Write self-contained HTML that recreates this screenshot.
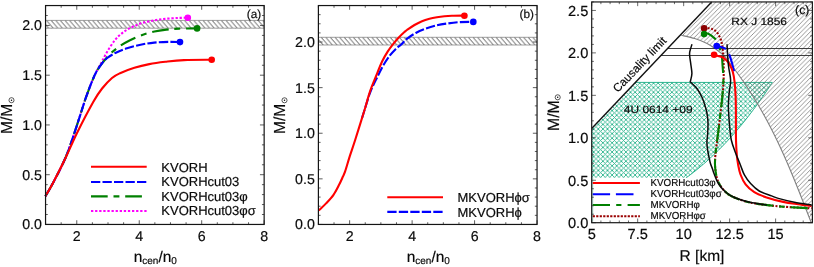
<!DOCTYPE html>
<html><head><meta charset="utf-8"><title>figure</title>
<style>html,body{margin:0;padding:0;background:#fff;}body{width:814px;height:267px;overflow:hidden;position:relative;font-family:"Liberation Sans",sans-serif;}</style>
</head><body>
<svg width="814" height="267" viewBox="0 0 814 267" style="position:absolute;left:0;top:0;will-change:transform;text-rendering:geometricPrecision">
<style>text{stroke:#0a0a0a;stroke-width:0.18px}</style>
<defs>
<pattern id="hb" width="4.6" height="7.8" patternUnits="userSpaceOnUse" x="46.5" y="20.4">
<path d="M-9.2,0L-2.5,7.8M-4.6,0L2.1,7.8M0,0L6.7,7.8M4.6,0L11.3,7.8" stroke="#2a2a2a" stroke-width="0.8"/>
</pattern>
<pattern id="hb2" width="4.6" height="7.7" patternUnits="userSpaceOnUse" x="321.1" y="37.3">
<path d="M-9.2,0L-2.5,7.7M-4.6,0L2.1,7.7M0,0L6.7,7.7M4.6,0L11.3,7.7" stroke="#2a2a2a" stroke-width="0.8"/>
</pattern>
<pattern id="hc" width="4.6" height="4.6" patternUnits="userSpaceOnUse" x="0.4" y="0">
<path d="M-1,5.6L5.6,-1M-1,1L1,-1M3.6,5.6L5.6,3.6" stroke="#707070" stroke-width="0.72"/>
</pattern>
<pattern id="tc" width="4.6" height="4.6" patternUnits="userSpaceOnUse" x="0.3" y="0.2">
<path d="M-1,5.6L5.6,-1M-1,1L1,-1M3.6,5.6L5.6,3.6M-1,-1L5.6,5.6M3.6,-1L5.6,1M-1,3.6L1,5.6" stroke="#2db48d" stroke-width="0.9"/>
</pattern>
<clipPath id="ca"><rect x="0.00" y="0.00" width="0.00" height="0.00"/></clipPath>
</defs>
<rect width="814" height="267" fill="#fff"/>
<rect x="45.55" y="20.40" width="218.60" height="7.80" fill="url(#hb)"/><path d="M45.55,20.40H264.15M45.55,28.20H264.15" stroke="#777" stroke-width="0.7" fill="none"/>
<g fill="none" stroke-width="2.1" stroke-linejoin="round">
<path d="M45.40,196.10C46.67,193.92 49.67,189.35 53.00,183.00C56.33,176.65 61.83,166.33 65.40,158.00C68.97,149.67 71.23,142.33 74.40,133.00C77.57,123.67 82.15,108.80 84.40,102.00C86.65,95.20 86.70,95.47 87.90,92.20C89.10,88.93 90.25,85.68 91.60,82.40C92.95,79.12 94.72,75.18 96.00,72.50C97.28,69.82 98.20,68.33 99.30,66.30C100.40,64.27 101.17,62.93 102.60,60.30C104.03,57.67 105.83,53.88 107.90,50.50C109.97,47.12 112.80,42.75 115.00,40.00C117.20,37.25 119.07,35.73 121.10,34.00C123.13,32.27 124.93,30.95 127.20,29.60C129.47,28.25 132.22,26.98 134.70,25.90C137.18,24.82 139.43,23.92 142.10,23.10C144.77,22.28 147.82,21.60 150.70,21.00C153.58,20.40 156.30,19.92 159.40,19.50C162.50,19.08 166.00,18.77 169.30,18.50C172.60,18.23 176.12,18.02 179.20,17.90C182.28,17.78 186.37,17.82 187.80,17.80" stroke="#ff00ff" stroke-dasharray="2.3 1.8"/>
<path d="M45.40,196.10C46.67,193.92 49.67,189.35 53.00,183.00C56.33,176.65 61.83,166.33 65.40,158.00C68.97,149.67 71.23,142.33 74.40,133.00C77.57,123.67 82.15,108.80 84.40,102.00C86.65,95.20 86.70,95.47 87.90,92.20C89.10,88.93 90.25,85.68 91.60,82.40C92.95,79.12 94.32,75.60 96.00,72.50C97.68,69.40 100.10,66.05 101.70,63.80C103.30,61.55 103.95,60.88 105.60,59.00C107.25,57.12 109.07,54.75 111.60,52.50C114.13,50.25 117.82,47.50 120.80,45.50C123.78,43.50 126.17,42.17 129.50,40.50C132.83,38.83 136.65,37.00 140.80,35.50C144.95,34.00 150.07,32.48 154.40,31.50C158.73,30.52 162.67,30.08 166.80,29.60C170.93,29.12 174.15,28.80 179.20,28.60C184.25,28.40 194.12,28.43 197.10,28.40" stroke="#008000" stroke-dasharray="16.7 5.8 5.9 5.8"/>
<path d="M45.40,196.10C46.67,193.92 49.67,189.35 53.00,183.00C56.33,176.65 61.83,166.33 65.40,158.00C68.97,149.67 71.23,142.33 74.40,133.00C77.57,123.67 82.15,108.80 84.40,102.00C86.65,95.20 86.70,95.47 87.90,92.20C89.10,88.93 90.25,85.68 91.60,82.40C92.95,79.12 94.32,75.60 96.00,72.50C97.68,69.40 99.83,66.22 101.70,63.80C103.57,61.38 104.83,59.85 107.20,58.00C109.57,56.15 112.60,54.32 115.90,52.70C119.20,51.08 122.88,49.63 127.00,48.30C131.12,46.97 136.07,45.65 140.60,44.70C145.13,43.75 149.47,43.07 154.20,42.60C158.93,42.13 164.70,41.98 169.00,41.90C173.30,41.82 178.17,42.07 180.00,42.10" stroke="#0000ff" stroke-dasharray="9.3 2.2"/>
<path d="M45.40,196.10C46.67,193.92 49.67,189.30 53.00,183.00C56.33,176.70 61.40,166.63 65.40,158.30C69.40,149.97 72.32,142.47 77.00,133.00C81.68,123.53 89.32,108.92 93.50,101.50C97.68,94.08 99.02,92.42 102.10,88.50C105.18,84.58 109.02,80.55 112.00,78.00C114.98,75.45 116.27,74.90 120.00,73.20C123.73,71.50 129.52,69.32 134.40,67.80C139.28,66.28 144.15,65.10 149.30,64.10C154.45,63.10 159.52,62.47 165.30,61.80C171.08,61.13 176.27,60.43 184.00,60.10C191.73,59.77 207.08,59.85 211.70,59.80" stroke="#ff0000"/>
</g>
<circle cx="211.7" cy="59.8" r="3.3" fill="#ff0000"/>
<circle cx="180.0" cy="42.1" r="3.3" fill="#0000ff"/>
<circle cx="197.1" cy="28.4" r="3.3" fill="#008000"/>
<circle cx="187.8" cy="17.8" r="3.3" fill="#ff00ff"/>
<path d="M45.55,224.45v-2.20M45.55,5.55v2.20M61.16,224.45v-2.20M61.16,5.55v2.20M76.78,224.45v-4.20M76.78,5.55v4.20M92.39,224.45v-2.20M92.39,5.55v2.20M108.01,224.45v-2.20M108.01,5.55v2.20M123.62,224.45v-2.20M123.62,5.55v2.20M139.24,224.45v-4.20M139.24,5.55v4.20M154.85,224.45v-2.20M154.85,5.55v2.20M170.46,224.45v-2.20M170.46,5.55v2.20M186.08,224.45v-2.20M186.08,5.55v2.20M201.69,224.45v-4.20M201.69,5.55v4.20M217.31,224.45v-2.20M217.31,5.55v2.20M232.92,224.45v-2.20M232.92,5.55v2.20M248.54,224.45v-2.20M248.54,5.55v2.20M264.15,224.45v-4.20M264.15,5.55v4.20M45.55,224.45h4.20M264.15,224.45h-4.20M45.55,214.50h2.20M264.15,214.50h-2.20M45.55,204.55h2.20M264.15,204.55h-2.20M45.55,194.60h2.20M264.15,194.60h-2.20M45.55,184.65h2.20M264.15,184.65h-2.20M45.55,174.70h4.20M264.15,174.70h-4.20M45.55,164.75h2.20M264.15,164.75h-2.20M45.55,154.80h2.20M264.15,154.80h-2.20M45.55,144.85h2.20M264.15,144.85h-2.20M45.55,134.90h2.20M264.15,134.90h-2.20M45.55,124.95h4.20M264.15,124.95h-4.20M45.55,115.00h2.20M264.15,115.00h-2.20M45.55,105.05h2.20M264.15,105.05h-2.20M45.55,95.10h2.20M264.15,95.10h-2.20M45.55,85.15h2.20M264.15,85.15h-2.20M45.55,75.20h4.20M264.15,75.20h-4.20M45.55,65.25h2.20M264.15,65.25h-2.20M45.55,55.30h2.20M264.15,55.30h-2.20M45.55,45.35h2.20M264.15,45.35h-2.20M45.55,35.40h2.20M264.15,35.40h-2.20M45.55,25.45h4.20M264.15,25.45h-4.20M45.55,15.50h2.20M264.15,15.50h-2.20M45.55,5.55h2.20M264.15,5.55h-2.20" stroke="#333" stroke-width="0.8" fill="none"/>
<rect x="45.55" y="5.55" width="218.60" height="218.90" fill="none" stroke="#141414" stroke-width="1.2"/>
<g fill="none" stroke-width="2.1">
<path d="M91,166.8H146.7" stroke="#ff0000"/>
<path d="M91,182.0H146.7" stroke="#0000ff" stroke-dasharray="9.3 2.2"/>
<path d="M91,196.4H146.7" stroke="#008000" stroke-dasharray="16.7 5.8 5.9 5.8"/>
<path d="M91,211.0H146.7" stroke="#ff00ff" stroke-dasharray="2.3 1.8"/>
</g>
<g font-family="Liberation Sans, sans-serif" font-size="13px" fill="#0a0a0a" stroke="#0a0a0a" stroke-width="0.25">
<text x="161.3" y="172.0">KVORH</text>
<text x="161.3" y="186.0">KVORHcut03</text>
<text x="161.3" y="201.0">KVORHcut03φ</text>
<text x="161.3" y="215.0">KVORHcut03φσ</text>
</g>
<g font-family="Liberation Sans, sans-serif" font-size="14.2px" fill="#0a0a0a"><text x="76.78" y="240.75" text-anchor="middle">2</text><text x="139.24" y="240.75" text-anchor="middle">4</text><text x="201.69" y="240.75" text-anchor="middle">6</text><text x="264.15" y="240.75" text-anchor="middle">8</text><text x="41.95" y="229.45" text-anchor="end">0.0</text><text x="41.95" y="179.70" text-anchor="end">0.5</text><text x="41.95" y="129.95" text-anchor="end">1.0</text><text x="41.95" y="80.20" text-anchor="end">1.5</text><text x="41.95" y="30.45" text-anchor="end">2.0</text></g>
<text font-family="Liberation Sans, sans-serif" font-size="11.8px" fill="#0a0a0a" x="261.2" y="17.8" text-anchor="end">(a)</text>
<text font-family="Liberation Sans, sans-serif" font-size="15.5px" fill="#0a0a0a" transform="translate(12.40,133.90) rotate(-90) scale(1,1.03)">M/M</text><circle cx="11.50" cy="100.20" r="2.55" fill="none" stroke="#111" stroke-width="0.7"/><circle cx="11.50" cy="100.20" r="0.75" fill="#0a0a0a"/>
<text font-family="Liberation Sans, sans-serif" font-size="15.5px" fill="#0a0a0a" x="155.30" y="261.90" text-anchor="middle">n<tspan font-size="10px" dy="2.0">cen</tspan><tspan dy="-2.0">/n</tspan><tspan font-size="10px" dy="2.0">0</tspan></text>
<rect x="318.40" y="37.30" width="218.65" height="7.70" fill="url(#hb2)"/><path d="M318.40,37.30H537.05M318.40,45.00H537.05" stroke="#777" stroke-width="0.7" fill="none"/>
<g fill="none" stroke-width="2.1" stroke-linejoin="round">
<path d="M361.90,118.50C362.42,116.83 363.60,112.90 365.00,108.50C366.40,104.10 368.25,97.35 370.30,92.10C372.35,86.85 375.10,81.52 377.30,77.00C379.50,72.48 381.43,68.55 383.50,65.00C385.57,61.45 387.65,58.38 389.70,55.70C391.75,53.02 393.88,50.77 395.80,48.90C397.72,47.03 399.30,46.22 401.20,44.50C403.10,42.78 404.77,40.52 407.20,38.60C409.63,36.68 412.72,34.65 415.80,33.00C418.88,31.35 422.18,29.98 425.70,28.70C429.22,27.42 433.18,26.18 436.90,25.30C440.62,24.42 444.10,23.93 448.00,23.40C451.90,22.87 456.08,22.35 460.30,22.10C464.52,21.85 471.13,21.93 473.30,21.90" stroke="#0000ff" stroke-dasharray="9.3 2.2"/>
<path d="M318.70,210.50C319.93,209.32 323.63,206.02 326.10,203.40C328.57,200.78 331.33,197.90 333.50,194.80C335.67,191.70 337.55,187.80 339.10,184.80C340.65,181.80 341.78,179.07 342.80,176.80C343.82,174.53 344.03,174.65 345.20,171.20C346.37,167.75 348.17,161.22 349.80,156.10C351.43,150.98 352.47,148.43 355.00,140.50C357.53,132.57 362.53,116.57 365.00,108.50C367.47,100.43 367.98,97.43 369.80,92.10C371.62,86.77 373.83,81.63 375.90,76.50C377.97,71.37 380.22,65.48 382.20,61.30C384.18,57.12 385.95,54.32 387.80,51.40C389.65,48.48 391.47,46.12 393.30,43.80C395.13,41.48 396.90,39.50 398.80,37.50C400.70,35.50 403.33,33.05 404.70,31.80C406.07,30.55 405.37,31.13 407.00,30.00C408.63,28.87 412.00,26.47 414.50,25.00C417.00,23.53 419.50,22.23 422.00,21.20C424.50,20.17 427.02,19.45 429.50,18.80C431.98,18.15 434.42,17.72 436.90,17.30C439.38,16.88 441.90,16.55 444.40,16.30C446.90,16.05 448.57,15.92 451.90,15.80C455.23,15.68 462.32,15.63 464.40,15.60" stroke="#ff0000"/>
</g>
<circle cx="464.4" cy="15.7" r="3.3" fill="#ff0000"/>
<circle cx="473.3" cy="21.9" r="3.3" fill="#0000ff"/>
<path d="M318.40,224.45v-2.20M318.40,5.55v2.20M334.02,224.45v-2.20M334.02,5.55v2.20M349.64,224.45v-4.20M349.64,5.55v4.20M365.25,224.45v-2.20M365.25,5.55v2.20M380.87,224.45v-2.20M380.87,5.55v2.20M396.49,224.45v-2.20M396.49,5.55v2.20M412.11,224.45v-4.20M412.11,5.55v4.20M427.72,224.45v-2.20M427.72,5.55v2.20M443.34,224.45v-2.20M443.34,5.55v2.20M458.96,224.45v-2.20M458.96,5.55v2.20M474.58,224.45v-4.20M474.58,5.55v4.20M490.20,224.45v-2.20M490.20,5.55v2.20M505.81,224.45v-2.20M505.81,5.55v2.20M521.43,224.45v-2.20M521.43,5.55v2.20M537.05,224.45v-4.20M537.05,5.55v4.20M318.40,224.45h4.20M537.05,224.45h-4.20M318.40,215.33h2.20M537.05,215.33h-2.20M318.40,206.21h2.20M537.05,206.21h-2.20M318.40,197.09h2.20M537.05,197.09h-2.20M318.40,187.97h2.20M537.05,187.97h-2.20M318.40,178.85h4.20M537.05,178.85h-4.20M318.40,169.72h2.20M537.05,169.72h-2.20M318.40,160.60h2.20M537.05,160.60h-2.20M318.40,151.48h2.20M537.05,151.48h-2.20M318.40,142.36h2.20M537.05,142.36h-2.20M318.40,133.24h4.20M537.05,133.24h-4.20M318.40,124.12h2.20M537.05,124.12h-2.20M318.40,115.00h2.20M537.05,115.00h-2.20M318.40,105.88h2.20M537.05,105.88h-2.20M318.40,96.76h2.20M537.05,96.76h-2.20M318.40,87.64h4.20M537.05,87.64h-4.20M318.40,78.52h2.20M537.05,78.52h-2.20M318.40,69.40h2.20M537.05,69.40h-2.20M318.40,60.28h2.20M537.05,60.28h-2.20M318.40,51.15h2.20M537.05,51.15h-2.20M318.40,42.03h4.20M537.05,42.03h-4.20M318.40,32.91h2.20M537.05,32.91h-2.20M318.40,23.79h2.20M537.05,23.79h-2.20M318.40,14.67h2.20M537.05,14.67h-2.20M318.40,5.55h2.20M537.05,5.55h-2.20" stroke="#333" stroke-width="0.8" fill="none"/>
<rect x="318.40" y="5.55" width="218.65" height="218.90" fill="none" stroke="#141414" stroke-width="1.2"/>
<g fill="none" stroke-width="2.1">
<path d="M387.3,197.3H443" stroke="#ff0000"/>
<path d="M387.3,211.9H443" stroke="#0000ff" stroke-dasharray="9.3 2.2"/>
</g>
<g font-family="Liberation Sans, sans-serif" font-size="13px" fill="#0a0a0a" stroke="#0a0a0a" stroke-width="0.25">
<text x="457.5" y="202.1">MKVORHϕσ</text>
<text x="457.5" y="216.7">MKVORHϕ</text>
</g>
<g font-family="Liberation Sans, sans-serif" font-size="14.2px" fill="#0a0a0a"><text x="349.64" y="240.75" text-anchor="middle">2</text><text x="412.11" y="240.75" text-anchor="middle">4</text><text x="474.58" y="240.75" text-anchor="middle">6</text><text x="537.05" y="240.75" text-anchor="middle">8</text><text x="314.80" y="229.45" text-anchor="end">0.0</text><text x="314.80" y="183.85" text-anchor="end">0.5</text><text x="314.80" y="138.24" text-anchor="end">1.0</text><text x="314.80" y="92.64" text-anchor="end">1.5</text><text x="314.80" y="47.03" text-anchor="end">2.0</text></g>
<text font-family="Liberation Sans, sans-serif" font-size="11.8px" fill="#0a0a0a" x="534" y="17.8" text-anchor="end">(b)</text>
<text font-family="Liberation Sans, sans-serif" font-size="15.5px" fill="#0a0a0a" transform="translate(285.40,134.00) rotate(-90) scale(1,1.03)">M/M</text><circle cx="284.50" cy="100.30" r="2.55" fill="none" stroke="#111" stroke-width="0.7"/><circle cx="284.50" cy="100.30" r="0.75" fill="#0a0a0a"/>
<text font-family="Liberation Sans, sans-serif" font-size="15.5px" fill="#0a0a0a" x="428.30" y="261.90" text-anchor="middle">n<tspan font-size="10px" dy="2.0">cen</tspan><tspan dy="-2.0">/n</tspan><tspan font-size="10px" dy="2.0">0</tspan></text>
<path d="M591.70,179.50L591.70,128.40L635.50,82.40L772.31,82.44C771.56,83.57 769.35,86.97 767.83,89.23C766.32,91.50 764.78,93.76 763.21,96.02C761.64,98.29 760.04,100.55 758.41,102.82C756.78,105.08 755.12,107.34 753.43,109.61C751.74,111.87 750.01,114.14 748.25,116.40C746.48,118.66 744.68,120.93 742.84,123.19C740.99,125.46 739.11,127.72 737.17,129.99C735.24,132.25 733.26,134.51 731.23,136.78C729.19,139.04 727.11,141.31 724.96,143.57C722.81,145.83 720.61,148.10 718.32,150.36C716.04,152.63 713.70,154.89 711.26,157.15C708.82,159.42 706.31,161.68 703.68,163.95C701.05,166.21 698.35,168.47 695.50,170.74C692.65,173.00 688.08,176.39 686.57,177.53C685.06,178.67 686.47,177.59 686.45,177.60L684.05,179.50L591.70,179.50Z" fill="url(#tc)"/>
<path d="M635.50,82.40L772.31,82.44C771.56,83.57 769.35,86.97 767.83,89.23C766.32,91.50 764.78,93.76 763.21,96.02C761.64,98.29 760.04,100.55 758.41,102.82C756.78,105.08 755.12,107.34 753.43,109.61C751.74,111.87 750.01,114.14 748.25,116.40C746.48,118.66 744.68,120.93 742.84,123.19C740.99,125.46 739.11,127.72 737.17,129.99C735.24,132.25 733.26,134.51 731.23,136.78C729.19,139.04 727.11,141.31 724.96,143.57C722.81,145.83 720.61,148.10 718.32,150.36C716.04,152.63 713.70,154.89 711.26,157.15C708.82,159.42 706.31,161.68 703.68,163.95C701.05,166.21 698.35,168.47 695.50,170.74C692.65,173.00 688.08,176.39 686.57,177.53C685.06,178.67 686.47,177.59 686.45,177.60" fill="none" stroke="#16ad83" stroke-width="0.9"/>
<rect x="592.20" y="177.9" width="128" height="44.30" fill="#fff"/>
<path d="M592.75,129V221.5" stroke="#2db48d" stroke-width="0.7" opacity="0.55" fill="none"/>
<path d="M681.30,35.30C683.53,35.85 690.40,37.23 694.70,38.60C699.00,39.97 703.60,41.75 707.10,43.50C710.60,45.25 712.84,47.02 715.70,49.10C718.56,51.18 721.54,53.18 724.27,56.00C727.01,58.82 729.58,62.67 732.11,66.00C734.64,69.33 737.08,72.67 739.45,76.00C741.82,79.33 744.11,82.67 746.32,86.00C748.54,89.33 750.68,92.67 752.76,96.00C754.84,99.33 756.85,102.67 758.81,106.00C760.76,109.33 762.65,112.67 764.48,116.00C766.32,119.33 768.10,122.67 769.83,126.00C771.56,129.33 773.24,132.67 774.88,136.00C776.52,139.33 778.11,142.67 779.66,146.00C781.22,149.33 782.73,152.67 784.22,156.00C785.71,159.33 787.15,162.67 788.58,166.00C790.01,169.33 791.40,172.67 792.78,176.00C794.16,179.33 795.51,182.67 796.85,186.00C798.19,189.33 799.52,192.67 800.83,196.00C802.15,199.33 803.45,202.67 804.75,206.00C806.05,209.33 807.57,213.23 808.65,216.00C809.72,218.77 810.79,221.50 811.22,222.60L812.40,222.70L812.40,1.95L711.70,1.95L681.30,35.30Z" fill="url(#hc)"/>
<path d="M681.30,35.30C683.53,35.85 690.40,37.23 694.70,38.60C699.00,39.97 703.60,41.75 707.10,43.50C710.60,45.25 712.84,47.02 715.70,49.10C718.56,51.18 721.54,53.18 724.27,56.00C727.01,58.82 729.58,62.67 732.11,66.00C734.64,69.33 737.08,72.67 739.45,76.00C741.82,79.33 744.11,82.67 746.32,86.00C748.54,89.33 750.68,92.67 752.76,96.00C754.84,99.33 756.85,102.67 758.81,106.00C760.76,109.33 762.65,112.67 764.48,116.00C766.32,119.33 768.10,122.67 769.83,126.00C771.56,129.33 773.24,132.67 774.88,136.00C776.52,139.33 778.11,142.67 779.66,146.00C781.22,149.33 782.73,152.67 784.22,156.00C785.71,159.33 787.15,162.67 788.58,166.00C790.01,169.33 791.40,172.67 792.78,176.00C794.16,179.33 795.51,182.67 796.85,186.00C798.19,189.33 799.52,192.67 800.83,196.00C802.15,199.33 803.45,202.67 804.75,206.00C806.05,209.33 807.57,213.23 808.65,216.00C809.72,218.77 810.79,221.50 811.22,222.60" fill="none" stroke="#808080" stroke-width="1.1"/>
<path d="M667.63,48.5H812.40M660.99,55.5H812.40" stroke="#2a2a2a" stroke-width="0.9" fill="none"/>
<path d="M591.70,128.4L711.7,2" stroke="#111" stroke-width="1.4" fill="none"/>
<g fill="none" stroke-linejoin="round">
<path d="M704.00,28.20C704.93,28.22 708.03,28.07 709.60,28.30C711.17,28.53 712.22,28.97 713.40,29.60C714.58,30.23 715.73,31.05 716.70,32.10C717.67,33.15 718.50,34.62 719.20,35.90C719.90,37.18 720.43,38.42 720.90,39.80C721.37,41.18 721.67,42.23 722.00,44.20C722.33,46.17 722.63,48.57 722.90,51.60C723.17,54.63 723.48,57.67 723.60,62.40C723.72,67.13 723.80,74.40 723.60,80.00C723.40,85.60 722.87,91.00 722.40,96.00C721.93,101.00 721.42,104.58 720.80,110.00C720.18,115.42 719.32,123.33 718.70,128.50C718.08,133.67 717.65,136.62 717.10,141.00C716.55,145.38 715.75,150.85 715.40,154.80C715.05,158.75 714.95,161.83 715.00,164.70C715.05,167.57 715.28,169.45 715.70,172.00C716.12,174.55 716.55,177.45 717.50,180.00C718.45,182.55 719.52,184.87 721.40,187.30C723.28,189.73 725.92,192.62 728.80,194.60C731.68,196.58 734.98,197.85 738.70,199.20C742.42,200.55 746.35,201.72 751.10,202.70C755.85,203.68 761.85,204.43 767.20,205.10C772.55,205.77 778.05,206.28 783.20,206.70C788.35,207.12 793.35,207.33 798.10,207.60C802.85,207.87 809.43,208.18 811.70,208.30" stroke="#990000" stroke-width="2.1" stroke-dasharray="2.0 1.55"/>
<path d="M704.00,34.00C704.57,33.92 706.43,33.40 707.40,33.50C708.37,33.60 708.82,33.98 709.80,34.60C710.78,35.22 712.17,36.17 713.30,37.20C714.43,38.23 715.47,38.72 716.60,40.80C717.73,42.88 719.23,47.17 720.10,49.70C720.97,52.23 721.38,53.28 721.80,56.00C722.22,58.72 722.33,62.00 722.60,66.00C722.87,70.00 723.43,75.00 723.40,80.00C723.37,85.00 722.83,91.00 722.40,96.00C721.97,101.00 721.42,104.58 720.80,110.00C720.18,115.42 719.32,123.33 718.70,128.50C718.08,133.67 717.65,136.62 717.10,141.00C716.55,145.38 715.75,150.85 715.40,154.80C715.05,158.75 714.95,161.83 715.00,164.70C715.05,167.57 715.28,169.45 715.70,172.00C716.12,174.55 716.55,177.45 717.50,180.00C718.45,182.55 719.52,184.87 721.40,187.30C723.28,189.73 725.92,192.62 728.80,194.60C731.68,196.58 734.98,197.85 738.70,199.20C742.42,200.55 746.35,201.72 751.10,202.70C755.85,203.68 761.85,204.43 767.20,205.10C772.55,205.77 778.05,206.28 783.20,206.70C788.35,207.12 793.35,207.33 798.10,207.60C802.85,207.87 809.43,208.18 811.70,208.30" stroke="#008000" stroke-width="2.1" stroke-dasharray="17 6 5.5 6" stroke-dashoffset="3"/>
<path d="M716.70,46.00C717.57,46.20 720.42,46.68 721.90,47.20C723.38,47.72 724.35,47.80 725.60,49.10C726.85,50.40 728.33,52.68 729.40,55.00C730.47,57.32 731.22,60.23 732.00,63.00C732.78,65.77 733.75,70.17 734.10,71.60" stroke="#0000ff" stroke-width="2.1" stroke-dasharray="17.5 5.8" stroke-dashoffset="7.5"/>
<path d="M714.30,54.80C715.43,55.13 719.13,55.95 721.10,56.80C723.07,57.65 724.65,58.57 726.10,59.90C727.55,61.23 728.67,62.75 729.80,64.80C730.93,66.85 732.10,69.33 732.90,72.20C733.70,75.07 734.15,78.03 734.60,82.00C735.05,85.97 735.38,91.00 735.60,96.00C735.82,101.00 735.83,104.67 735.90,112.00C735.97,119.33 735.83,132.67 736.00,140.00C736.17,147.33 736.53,151.83 736.90,156.00C737.27,160.17 737.60,161.92 738.20,165.00C738.80,168.08 739.27,171.27 740.50,174.50C741.73,177.73 743.30,181.45 745.60,184.40C747.90,187.35 750.80,190.03 754.30,192.20C757.80,194.37 761.78,195.78 766.60,197.40C771.42,199.02 777.95,200.75 783.20,201.90C788.45,203.05 793.35,203.60 798.10,204.30C802.85,205.00 809.43,205.80 811.70,206.10" stroke="#ff0000" stroke-width="2.1"/>
<path d="M692.00,44.20C691.63,45.43 690.18,49.63 689.80,51.60C689.42,53.57 689.52,53.78 689.70,56.00C689.88,58.22 690.53,61.98 690.90,64.90C691.27,67.82 691.95,70.90 691.90,73.50C691.85,76.10 690.87,79.15 690.60,80.50C690.33,81.85 690.23,81.25 690.30,81.60C690.37,81.95 689.87,81.42 691.00,82.60C692.13,83.78 695.27,86.25 697.10,88.70C698.93,91.15 700.67,94.42 702.00,97.30C703.33,100.18 704.28,103.38 705.10,106.00C705.92,108.62 706.42,110.27 706.90,113.00C707.38,115.73 707.88,118.78 708.00,122.40C708.12,126.02 707.78,131.43 707.60,134.70C707.42,137.97 706.90,139.47 706.90,142.00C706.90,144.53 707.07,146.53 707.60,149.90C708.13,153.27 709.28,159.02 710.10,162.20C710.92,165.38 711.83,167.08 712.50,169.00C713.17,170.92 713.12,171.28 714.10,173.70C715.08,176.12 716.45,180.42 718.40,183.50C720.35,186.58 722.92,189.78 725.80,192.20C728.68,194.62 731.90,196.38 735.70,198.00C739.50,199.62 743.38,200.73 748.60,201.90C753.82,203.07 763.93,204.48 767.00,205.00" stroke="#0a0a0a" stroke-width="1.5"/>
<path d="M727.10,44.20C727.13,45.17 727.07,46.37 727.30,50.00C727.53,53.63 727.95,61.00 728.50,66.00C729.05,71.00 730.48,75.60 730.60,80.00C730.72,84.40 729.57,88.28 729.20,92.40C728.83,96.52 728.50,101.43 728.40,104.70C728.30,107.97 728.40,108.45 728.60,112.00C728.80,115.55 729.15,121.33 729.60,126.00C730.05,130.67 730.33,135.60 731.30,140.00C732.27,144.40 733.90,148.28 735.40,152.40C736.90,156.52 738.80,160.95 740.30,164.70C741.80,168.45 742.68,171.77 744.40,174.90C746.12,178.03 748.13,180.82 750.60,183.50C753.07,186.18 755.70,188.93 759.20,191.00C762.70,193.07 768.42,194.67 771.60,195.90C774.78,197.13 774.52,197.35 778.30,198.40C782.08,199.45 788.73,201.12 794.30,202.20C799.87,203.28 808.80,204.45 811.70,204.90" stroke="#0a0a0a" stroke-width="1.5"/>
</g>
<circle cx="704.1" cy="28.2" r="3.3" fill="#8b0000"/>
<circle cx="704.1" cy="34.1" r="3.3" fill="#008000"/>
<circle cx="716.7" cy="46.0" r="3.3" fill="#0000ff"/>
<circle cx="714.1" cy="54.8" r="3.3" fill="#ff0000"/>
<g fill="none" stroke-width="2.0">
<path d="M592.7,183.1H639.9" stroke="#ff0000"/>
<path d="M592.7,194.2H639.9" stroke="#0000ff" stroke-dasharray="17.4 5.8 17.6 20"/>
<path d="M592.7,205.1H639.9" stroke="#008000" stroke-dasharray="17.3 6.2 5.2 6.2"/>
<path d="M592.7,216.3H639.9" stroke="#990000" stroke-dasharray="2.2 1.3"/>
</g>
<text font-family="Liberation Sans, sans-serif" font-size="10.2px" fill="#0a0a0a" transform="translate(650.5,186.0) scale(0.962,1)">KVORHcut03φ</text>
<text font-family="Liberation Sans, sans-serif" font-size="10.2px" fill="#0a0a0a" transform="translate(650.5,197.0) scale(0.962,1)">KVORHcut03φσ</text>
<text font-family="Liberation Sans, sans-serif" font-size="10.2px" fill="#0a0a0a" transform="translate(650.5,208.0) scale(0.962,1)">MKVORHφ</text>
<text font-family="Liberation Sans, sans-serif" font-size="10.2px" fill="#0a0a0a" transform="translate(650.5,219.0) scale(0.962,1)">MKVORHφσ</text>
<path d="M591.70,222.70v-4.20M591.70,1.95v4.20M600.90,222.70v-2.20M600.90,1.95v2.20M610.09,222.70v-2.20M610.09,1.95v2.20M619.29,222.70v-2.20M619.29,1.95v2.20M628.48,222.70v-2.20M628.48,1.95v2.20M637.68,222.70v-4.20M637.68,1.95v4.20M646.88,222.70v-2.20M646.88,1.95v2.20M656.07,222.70v-2.20M656.07,1.95v2.20M665.27,222.70v-2.20M665.27,1.95v2.20M674.46,222.70v-2.20M674.46,1.95v2.20M683.66,222.70v-4.20M683.66,1.95v4.20M692.85,222.70v-2.20M692.85,1.95v2.20M702.05,222.70v-2.20M702.05,1.95v2.20M711.25,222.70v-2.20M711.25,1.95v2.20M720.44,222.70v-2.20M720.44,1.95v2.20M729.64,222.70v-4.20M729.64,1.95v4.20M738.83,222.70v-2.20M738.83,1.95v2.20M748.03,222.70v-2.20M748.03,1.95v2.20M757.23,222.70v-2.20M757.23,1.95v2.20M766.42,222.70v-2.20M766.42,1.95v2.20M775.62,222.70v-4.20M775.62,1.95v4.20M784.81,222.70v-2.20M784.81,1.95v2.20M794.01,222.70v-2.20M794.01,1.95v2.20M803.20,222.70v-2.20M803.20,1.95v2.20M812.40,222.70v-2.20M812.40,1.95v2.20M591.70,222.70h4.20M812.40,222.70h-4.20M591.70,214.21h2.20M812.40,214.21h-2.20M591.70,205.72h2.20M812.40,205.72h-2.20M591.70,197.23h2.20M812.40,197.23h-2.20M591.70,188.74h2.20M812.40,188.74h-2.20M591.70,180.25h4.20M812.40,180.25h-4.20M591.70,171.76h2.20M812.40,171.76h-2.20M591.70,163.27h2.20M812.40,163.27h-2.20M591.70,154.78h2.20M812.40,154.78h-2.20M591.70,146.29h2.20M812.40,146.29h-2.20M591.70,137.80h4.20M812.40,137.80h-4.20M591.70,129.31h2.20M812.40,129.31h-2.20M591.70,120.82h2.20M812.40,120.82h-2.20M591.70,112.32h2.20M812.40,112.32h-2.20M591.70,103.83h2.20M812.40,103.83h-2.20M591.70,95.34h4.20M812.40,95.34h-4.20M591.70,86.85h2.20M812.40,86.85h-2.20M591.70,78.36h2.20M812.40,78.36h-2.20M591.70,69.87h2.20M812.40,69.87h-2.20M591.70,61.38h2.20M812.40,61.38h-2.20M591.70,52.89h4.20M812.40,52.89h-4.20M591.70,44.40h2.20M812.40,44.40h-2.20M591.70,35.91h2.20M812.40,35.91h-2.20M591.70,27.42h2.20M812.40,27.42h-2.20M591.70,18.93h2.20M812.40,18.93h-2.20M591.70,10.44h4.20M812.40,10.44h-4.20M591.70,1.95h2.20M812.40,1.95h-2.20" stroke="#3a3a3a" stroke-width="0.75" fill="none"/>
<rect x="591.70" y="1.95" width="220.70" height="220.75" fill="none" stroke="#1a1a1a" stroke-width="1.2"/>
<g font-family="Liberation Sans, sans-serif" font-size="14.6px" fill="#0a0a0a"><text x="591.70" y="239.30" text-anchor="middle">5</text><text x="637.68" y="239.30" text-anchor="middle">7.5</text><text x="683.66" y="239.30" text-anchor="middle">10</text><text x="729.64" y="239.30" text-anchor="middle">12.5</text><text x="775.62" y="239.30" text-anchor="middle">15</text><text x="588.30" y="228.00" text-anchor="end">0.0</text><text x="588.30" y="185.55" text-anchor="end">0.5</text><text x="588.30" y="143.10" text-anchor="end">1.0</text><text x="588.30" y="100.64" text-anchor="end">1.5</text><text x="588.30" y="58.19" text-anchor="end">2.0</text><text x="588.30" y="15.74" text-anchor="end">2.5</text></g>
<text font-family="Liberation Sans, sans-serif" font-size="10.6px" fill="#0a0a0a" transform="translate(731.3,24.9) scale(1.125,1)">RX J 1856</text>
<text font-family="Liberation Sans, sans-serif" font-size="10.4px" fill="#0a0a0a" transform="translate(623.8,112.7) scale(1.15,1)">4U 0614 +09</text>
<text font-family="Liberation Sans, sans-serif" font-size="11.6px" fill="#0a0a0a" transform="translate(617.7,93.1) rotate(-46.3)">Causality limit</text>
<text font-family="Liberation Sans, sans-serif" font-size="12.2px" fill="#0a0a0a" x="809.3" y="14.0" text-anchor="end">(c)</text>
<text font-family="Liberation Sans, sans-serif" font-size="15.8px" fill="#0a0a0a" transform="translate(558.60,131.00) rotate(-90) scale(1,1.03)">M/M</text><circle cx="557.70" cy="97.30" r="2.55" fill="none" stroke="#111" stroke-width="0.7"/><circle cx="557.70" cy="97.30" r="0.75" fill="#0a0a0a"/>
<text font-family="Liberation Sans, sans-serif" font-size="15.5px" fill="#0a0a0a" x="702" y="260.5" text-anchor="middle">R [km]</text>
</svg>
</body></html>
